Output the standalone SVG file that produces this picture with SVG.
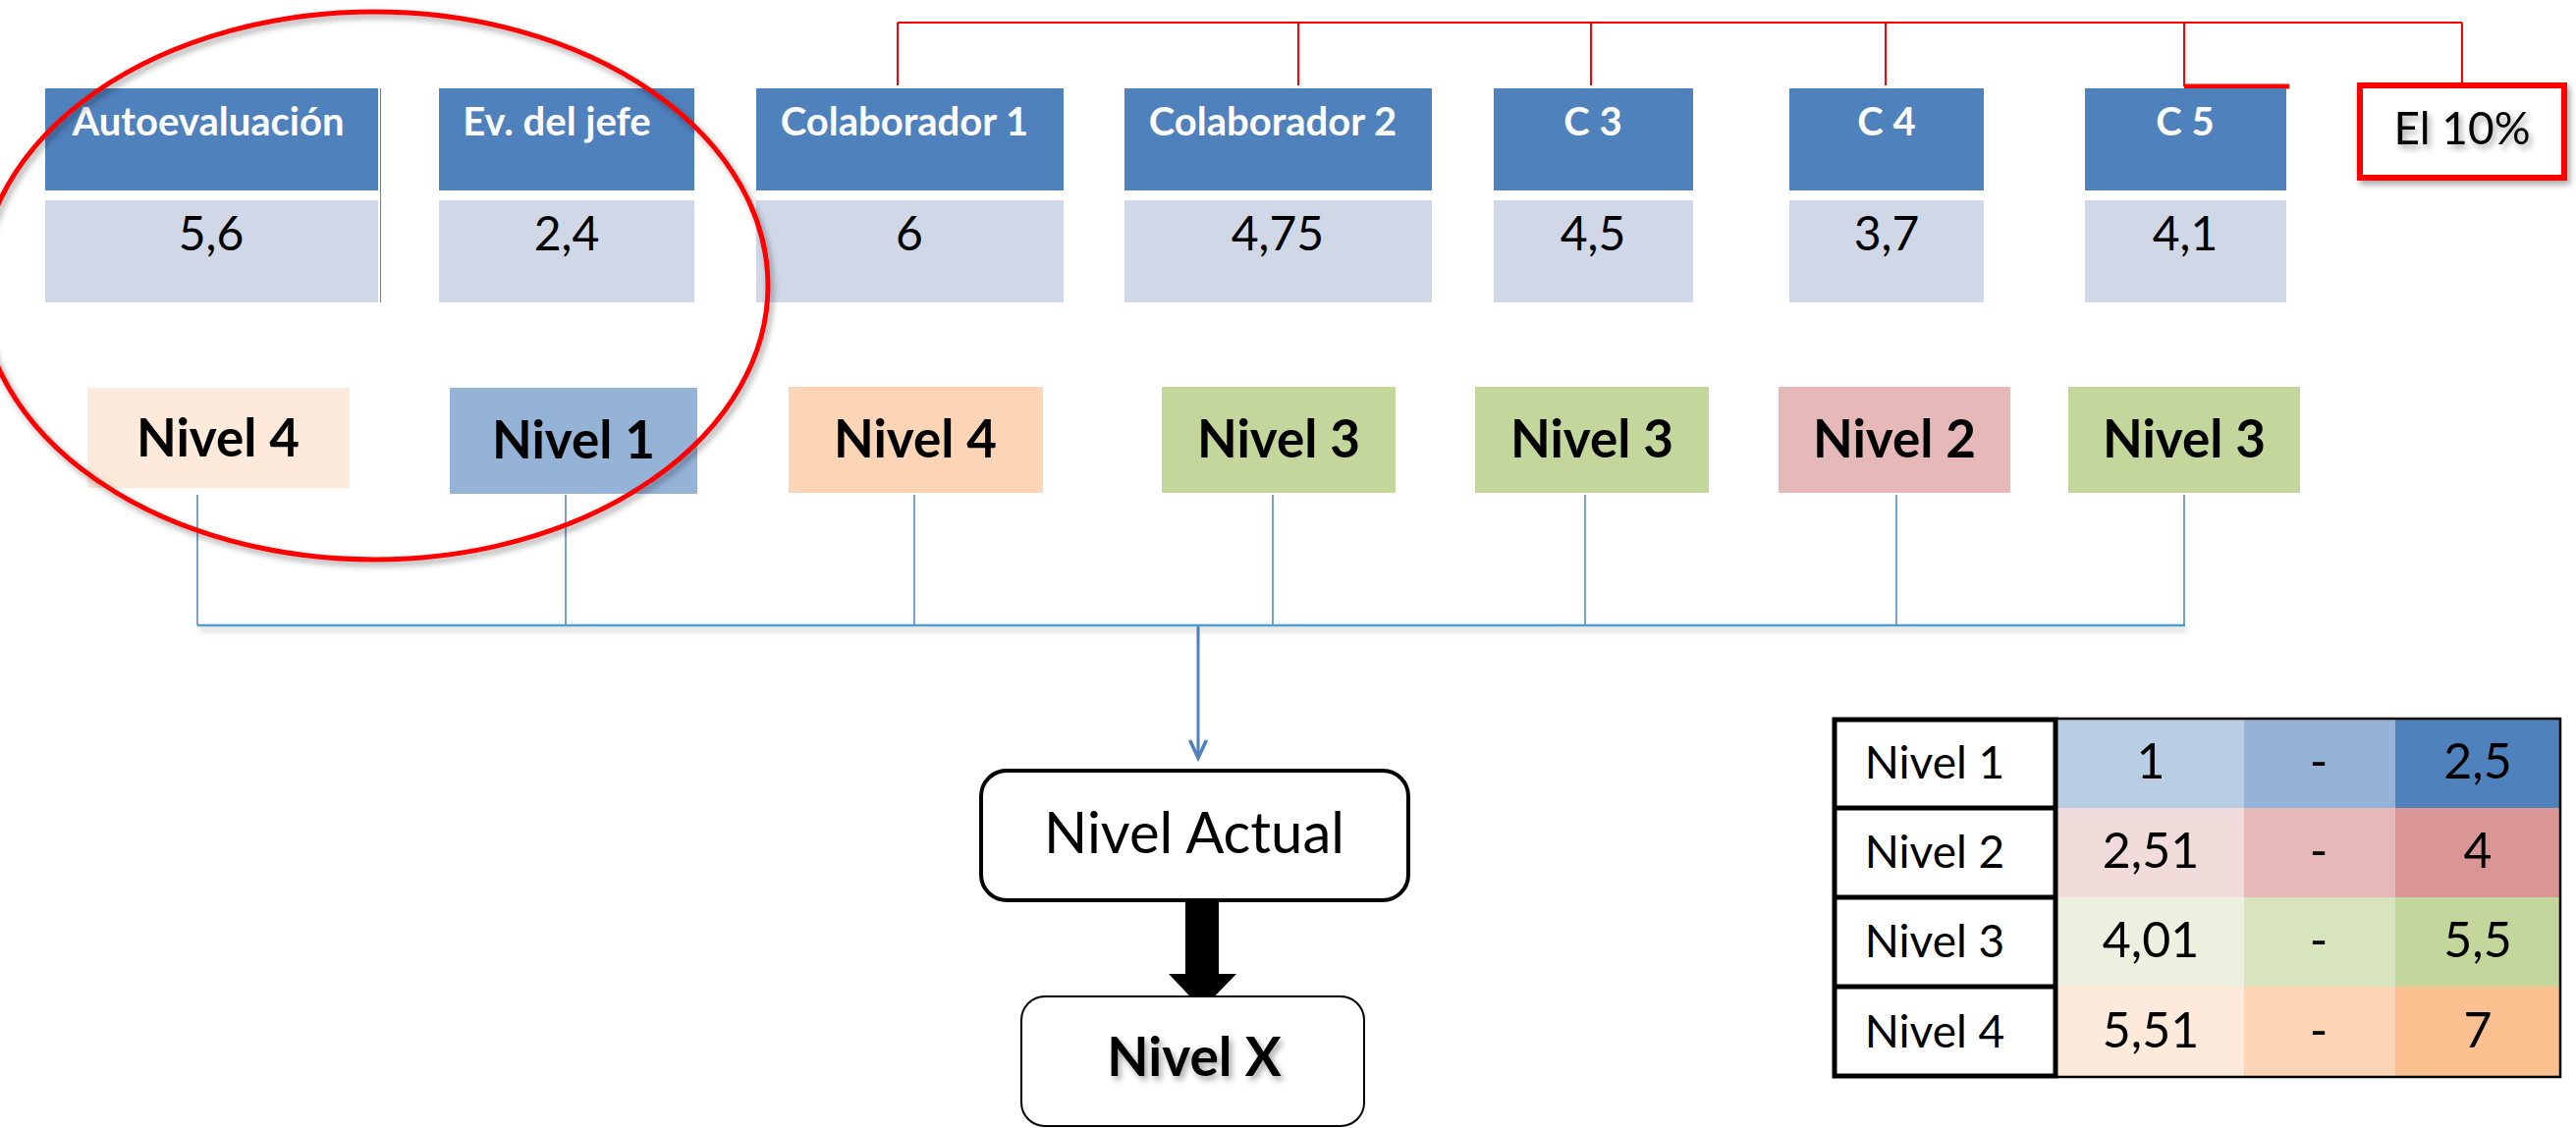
<svg xmlns="http://www.w3.org/2000/svg" width="2623" height="1149" viewBox="0 0 2623 1149">
<style>
.hdr{fill:#4f81bd}
.val{fill:#d0d8e8}
.ht{font-family:Lato,"Liberation Sans",sans-serif;font-weight:bold;font-size:40px;fill:#fff;text-anchor:middle}
.vt{font-family:Lato,"Liberation Sans",sans-serif;font-size:48px;fill:#000;text-anchor:middle}
.nt{font-family:Lato,"Liberation Sans",sans-serif;font-weight:bold;font-size:53px;fill:#000;text-anchor:middle}
.tt{font-family:Lato,"Liberation Sans",sans-serif;font-size:46px;fill:#000;text-anchor:middle}
.tn{font-family:Lato,"Liberation Sans",sans-serif;font-size:50px;fill:#000;text-anchor:middle}
.red{stroke:#ff0000;stroke-width:2;fill:none}
.blue{stroke:#4f81bd;stroke-width:1.5;fill:none}
</style>
<defs>
<filter id="sh" x="-10%" y="-10%" width="130%" height="130%">
<feDropShadow dx="3" dy="4" stdDeviation="3" flood-color="#000" flood-opacity="0.35"/>
</filter>
<filter id="lsh" filterUnits="userSpaceOnUse" x="180" y="620" width="2070" height="40">
<feDropShadow dx="2" dy="4" stdDeviation="3" flood-color="#000" flood-opacity="0.3"/>
</filter>
<marker id="arr" markerWidth="24" markerHeight="24" refX="17" refY="10" orient="auto" markerUnits="userSpaceOnUse" viewBox="0 0 20 20">
<path d="M2,3 L17,10 L2,17" fill="none" stroke="#4f81bd" stroke-width="3"/>
</marker>
</defs>
<rect width="2623" height="1149" fill="#fff"/>

<g id="connectors">
<path class="red" d="M914,23 H2507 M914,23 V87 M1322,23 V87 M1620,23 V87 M1920,23 V87 M2224,23 V88 M2507,23 V86"/>
<path d="M2224,88 H2331" stroke="#ff0000" stroke-width="5"/>
<path class="blue" d="M201,504 V637 M576,504 V637 M931,504 V637 M1296,504 V637 M1614,504 V637 M1931,504 V637 M2224,504 V637"/>
<path d="M201,637 H2225" stroke="#4f9fc8" stroke-width="2.5" filter="url(#lsh)"/>
<path d="M1220,638 V772" stroke="#4f81bd" stroke-width="3" marker-end="url(#arr)"/>
<path d="M1207,917 H1241 V992 H1259 L1224,1028 L1190,992 H1207 Z" fill="#000"/>
</g>

<g id="n-auto">
<rect class="hdr" x="46" y="90" width="339" height="104"/>
<rect class="val" x="46" y="204" width="339" height="104"/>
<line x1="387.5" y1="90" x2="387.5" y2="308" stroke="#4f81bd" stroke-width="1"/>
<text class="ht" x="212" y="138">Autoevaluación</text>
<text class="vt" x="215" y="255">5,6</text>
</g>
<g id="n-jefe">
<rect class="hdr" x="447" y="90" width="260" height="104"/>
<rect class="val" x="447" y="204" width="260" height="104"/>
<text class="ht" x="567" y="138">Ev. del jefe</text>
<text class="vt" x="577" y="255">2,4</text>
</g>
<g id="n-c1">
<rect class="hdr" x="770" y="90" width="313" height="104"/>
<rect class="val" x="770" y="204" width="313" height="104"/>
<text class="ht" x="921" y="138">Colaborador 1</text>
<text class="vt" x="926" y="255">6</text>
</g>
<g id="n-c2">
<rect class="hdr" x="1145" y="90" width="313" height="104"/>
<rect class="val" x="1145" y="204" width="313" height="104"/>
<text class="ht" x="1296" y="138">Colaborador 2</text>
<text class="vt" x="1301" y="255">4,75</text>
</g>
<g id="n-c3">
<rect class="hdr" x="1521" y="90" width="203" height="104"/>
<rect class="val" x="1521" y="204" width="203" height="104"/>
<text class="ht" x="1622" y="138">C 3</text>
<text class="vt" x="1622" y="255">4,5</text>
</g>
<g id="n-c4">
<rect class="hdr" x="1822" y="90" width="198" height="104"/>
<rect class="val" x="1822" y="204" width="198" height="104"/>
<text class="ht" x="1921" y="138">C 4</text>
<text class="vt" x="1921" y="255">3,7</text>
</g>
<g id="n-c5">
<rect class="hdr" x="2123" y="90" width="205" height="104"/>
<rect class="val" x="2123" y="204" width="205" height="104"/>
<text class="ht" x="2225" y="138">C 5</text>
<text class="vt" x="2225" y="255">4,1</text>
</g>
<g id="n-10">
<rect x="2403" y="87" width="208" height="94" fill="#fff" stroke="#ff0000" stroke-width="6" filter="url(#sh)"/>
<text x="2507" y="147" font-family="Lato,'Liberation Sans',sans-serif" font-size="46" text-anchor="middle" filter="url(#sh)">El 10%</text>
</g>

<g id="l1"><rect x="89" y="395" width="267" height="102" fill="#fdeada"/><text class="nt" x="222" y="465">Nivel 4</text></g>
<g id="l2"><rect x="458" y="395" width="252" height="108" fill="#95b3d7"/><text class="nt" x="584" y="467">Nivel 1</text></g>
<g id="l3"><rect x="803" y="394" width="259" height="108" fill="#fbd5b5"/><text class="nt" x="932" y="466">Nivel 4</text></g>
<g id="l4"><rect x="1183" y="394" width="238" height="108" fill="#c3d69b"/><text class="nt" x="1302" y="466">Nivel 3</text></g>
<g id="l5"><rect x="1502" y="394" width="238" height="108" fill="#c3d69b"/><text class="nt" x="1621" y="466">Nivel 3</text></g>
<g id="l6"><rect x="1811" y="394" width="236" height="108" fill="#e6b9b8"/><text class="nt" x="1929" y="466">Nivel 2</text></g>
<g id="l7"><rect x="2106" y="394" width="236" height="108" fill="#c3d69b"/><text class="nt" x="2224" y="466">Nivel 3</text></g>

<g id="ellipse">
<ellipse cx="381" cy="291" rx="401" ry="279" fill="none" stroke="#ff0000" stroke-width="5" filter="url(#sh)"/>
</g>

<g id="n-actual">
<rect x="999" y="785" width="435" height="132" rx="26" fill="#fff" stroke="#000" stroke-width="4"/>
<text x="1216" y="869" font-family="Lato,'Liberation Sans',sans-serif" font-size="58" text-anchor="middle">Nivel Actual</text>
</g>
<g id="n-x">
<rect x="1040" y="1015" width="349" height="132" rx="24" fill="#fff" stroke="#000" stroke-width="2"/>
<text x="1216" y="1096" font-family="Lato,'Liberation Sans',sans-serif" font-weight="bold" font-size="55" text-anchor="middle" filter="url(#sh)">Nivel X</text>
</g>

<g id="table">
<rect x="2094" y="731" width="191" height="92" fill="#b9cde5"/>
<rect x="2285" y="731" width="154" height="92" fill="#95b3d7"/>
<rect x="2439" y="731" width="168" height="92" fill="#4f81bd"/>
<rect x="2094" y="823" width="191" height="91" fill="#f2dcdb"/>
<rect x="2285" y="823" width="154" height="91" fill="#e6b9b8"/>
<rect x="2439" y="823" width="168" height="91" fill="#d99694"/>
<rect x="2094" y="914" width="191" height="91" fill="#ebf1de"/>
<rect x="2285" y="914" width="154" height="91" fill="#d7e4bd"/>
<rect x="2439" y="914" width="168" height="91" fill="#c3d69b"/>
<rect x="2094" y="1005" width="191" height="92" fill="#fdeada"/>
<rect x="2285" y="1005" width="154" height="92" fill="#fbd5b5"/>
<rect x="2439" y="1005" width="168" height="92" fill="#fac090"/>
<path d="M2094,732 H2607 V1097 H2094" fill="none" stroke="#000" stroke-width="2.5"/>
<rect x="1868" y="733" width="225" height="363" fill="#fff" stroke="#000" stroke-width="5"/>
<path d="M1868,823 H2093 M1868,914 H2093 M1868,1005 H2093" stroke="#000" stroke-width="5"/>
<text class="tt" x="1970" y="793">Nivel 1</text>
<text class="tt" x="1970" y="884">Nivel 2</text>
<text class="tt" x="1970" y="975">Nivel 3</text>
<text class="tt" x="1970" y="1067">Nivel 4</text>
<text class="tn" x="2190" y="793">1</text>
<text class="tn" x="2361" y="793">-</text>
<text class="tn" x="2523" y="793">2,5</text>
<text class="tn" x="2190" y="884">2,51</text>
<text class="tn" x="2361" y="884">-</text>
<text class="tn" x="2523" y="884">4</text>
<text class="tn" x="2190" y="975">4,01</text>
<text class="tn" x="2361" y="975">-</text>
<text class="tn" x="2523" y="975">5,5</text>
<text class="tn" x="2190" y="1067">5,51</text>
<text class="tn" x="2361" y="1067">-</text>
<text class="tn" x="2523" y="1067">7</text>
</g>
</svg>
